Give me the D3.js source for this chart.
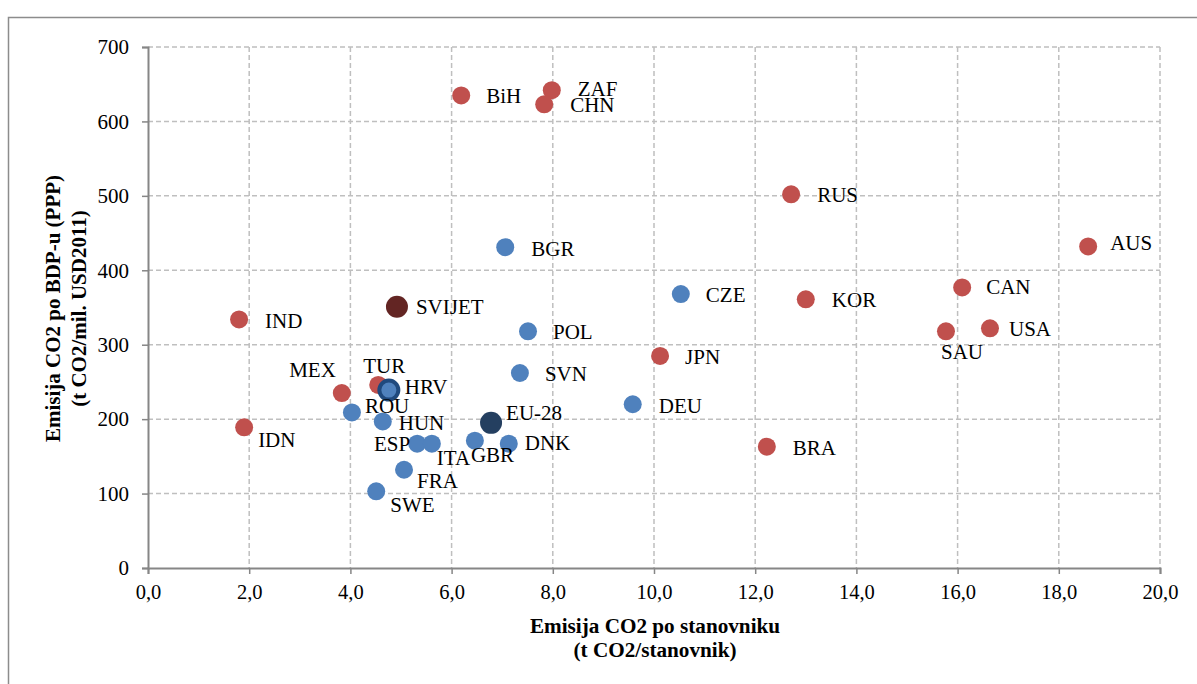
<!DOCTYPE html>
<html><head><meta charset="utf-8">
<script src="https://cdn.jsdelivr.net/npm/d3@7"></script>
<style>
html,body{margin:0;padding:0;background:#fff;}
svg{display:block;}
svg text{font-family:"Liberation Serif","Times New Roman",serif !important;}
</style></head>
<body>
<svg id="c" width="1197" height="684"></svg>
<script>
const countries = ["BiH","ZAF","CHN","RUS","AUS","BGR","CZE","CAN","KOR","SVIJET","IND","POL","SAU","USA","JPN","SVN","TUR","MEX","ROU","HUN","DEU","IDN","BRA","ESP","ITA","GBR","DNK","FRA","SWE","EU-28","HRV"];
const perCapita = [6.19,7.98,7.83,12.71,18.58,7.06,10.53,16.09,13.0,4.92,1.80,7.51,15.77,16.64,10.12,7.35,4.55,3.83,4.03,4.64,9.58,1.90,12.23,5.32,5.61,6.46,7.13,5.06,4.51,6.78,4.76];
const perGDP = [635,642,623,502,432,431,368,377,361,351,334,318,318,322,285,262,246,235,209,197,220,189,163,167,167,171,167,132,103,195,239];
const group = ["non","non","non","non","non","eu","eu","non","non","world","non","eu","non","non","non","eu","non","non","eu","eu","eu","non","non","eu","eu","eu","eu","eu","eu","eu28","hrv"];
const xTicks = [0,2,4,6,8,10,12,14,16,18,20];
const yTicks = [0,100,200,300,400,500,600,700];
const xTitle = ["Emisija CO2 po stanovniku","(t CO2/stanovnik)"];
const yTitle = ["Emisija CO2 po BDP-u (PPP)","(t CO2/mil. USD2011)"];

// label placement (pixel offsets from point, anchor)
const labelPlace = {
  "BiH":[25,0,"start"],"ZAF":[26,-2,"start"],"CHN":[26,0,"start"],"RUS":[26,0,"start"],
  "AUS":[22,-4,"start"],"BGR":[26,1,"start"],"CZE":[25,1,"start"],"CAN":[24,-1,"start"],
  "KOR":[26,0,"start"],"SVIJET":[19,0,"start"],"IND":[26,1,"start"],"POL":[25,0,"start"],
  "SAU":[-5,20,"start"],"USA":[19,0,"start"],"JPN":[25,1,"start"],"SVN":[25,1,"start"],
  "TUR":[-15,-19,"start"],"MEX":[-6,-23,"end"],"ROU":[13,-7,"start"],"HUN":[16,1,"start"],
  "DEU":[26,1,"start"],"IDN":[14,12,"start"],"BRA":[26,1,"start"],"ESP":[-7,0,"end"],
  "ITA":[5,14,"start"],"GBR":[-4,14,"start"],"DNK":[16,-1,"start"],"FRA":[13,11,"start"],
  "SWE":[14,13,"start"],"EU-28":[15,-10,"start"],"HRV":[16,-3,"start"]
};
const colors = {non:"#C0504D",eu:"#4F81BD",world:"#632523",eu28:"#243F60",hrv:"#4F81BD"};
const FONT = "Liberation Serif, Times New Roman, serif";

const svg = d3.select("#c");
const W=1197,H=684;
const m={left:148,right:1160,top:47,bottom:568};
const x = d3.scaleLinear().domain([0,20]).range([m.left,m.right]);
const y = d3.scaleLinear().domain([0,700]).range([m.bottom,m.top]);

// outer frame
svg.append("rect").attr("x",8.5).attr("y",17.5).attr("width",W+10).attr("height",H+10)
  .attr("fill","none").attr("stroke","#8c8c8c").attr("stroke-width",1.5);

// grid
const grid = svg.append("g");
grid.selectAll("line.gy").data(yTicks.filter(d=>d>0)).join("line")
  .attr("x1",m.left).attr("x2",m.right).attr("y1",d=>y(d)).attr("y2",d=>y(d))
  .attr("stroke","#BFBFBF").attr("stroke-width",1.5).attr("stroke-dasharray","5,3");
grid.selectAll("line.gx").data(xTicks.filter(d=>d>0)).join("line")
  .attr("y1",m.top).attr("y2",m.bottom).attr("x1",d=>x(d)).attr("x2",d=>x(d))
  .attr("stroke","#BFBFBF").attr("stroke-width",1.5).attr("stroke-dasharray","5,3");

// axes
const fmt = d3.format(".1f");
const xAxis = d3.axisBottom(x).tickValues(xTicks).tickSize(6).tickPadding(10)
  .tickFormat(d=>fmt(d).replace(".",","));
const yAxis = d3.axisLeft(y).tickValues(yTicks).tickSize(6).tickPadding(13);
const gx = svg.append("g").attr("transform",`translate(0,${m.bottom})`).call(xAxis);
const gy = svg.append("g").attr("transform",`translate(${m.left},0)`).call(yAxis);
[gx,gy].forEach(g=>{
  g.attr("font-family",FONT).attr("font-size",21);
  g.select(".domain").attr("stroke","#868686").attr("stroke-width",2);
  g.selectAll(".tick line").attr("stroke","#868686").attr("stroke-width",1.5);
  g.selectAll(".tick text").attr("fill","#000");
});
gx.attr("font-size",20.5);

// titles
const xt = svg.append("text").attr("text-anchor","middle").attr("font-weight","bold")
  .attr("font-family",FONT).attr("font-size",21.2).attr("fill","#000");
xTitle.forEach((t,i)=>xt.append("tspan").attr("x",(m.left+m.right)/2+1).attr("y",633+i*24).text(t));
const yt = svg.append("text").attr("text-anchor","middle").attr("font-weight","bold")
  .attr("font-family",FONT).attr("font-size",21).attr("fill","#000")
  .attr("transform",`translate(0,${(m.top+m.bottom)/2+1}) rotate(-90)`);
yTitle.forEach((t,i)=>yt.append("tspan").attr("x",0).attr("y",60+i*26).text(t));

// points
const data = countries.map((c,i)=>({c,x:perCapita[i],y:perGDP[i],g:group[i]}));
const pts = svg.append("g");
data.forEach(d=>{
  const cx=x(d.x), cy=y(d.y);
  if(d.g==="hrv"){
    pts.append("circle").attr("cx",cx).attr("cy",cy).attr("r",9.5).attr("fill","#4F81BD")
      .attr("stroke","#1F497D").attr("stroke-width",4);
  } else {
    const r = (d.g==="world"||d.g==="eu28")?11:9;
    pts.append("circle").attr("cx",cx).attr("cy",cy).attr("r",r).attr("fill",colors[d.g]);
  }
});
// labels
const lab = svg.append("g").attr("font-family",FONT).attr("font-size",21).attr("fill","#000");
data.forEach(d=>{
  const p = labelPlace[d.c]||[20,0,"start"];
  lab.append("text").attr("x",x(d.x)+p[0]).attr("y",y(d.y)+p[1]).attr("dy","0.35em")
    .attr("text-anchor",p[2]).text(d.c);
});
</script>
</body></html>
